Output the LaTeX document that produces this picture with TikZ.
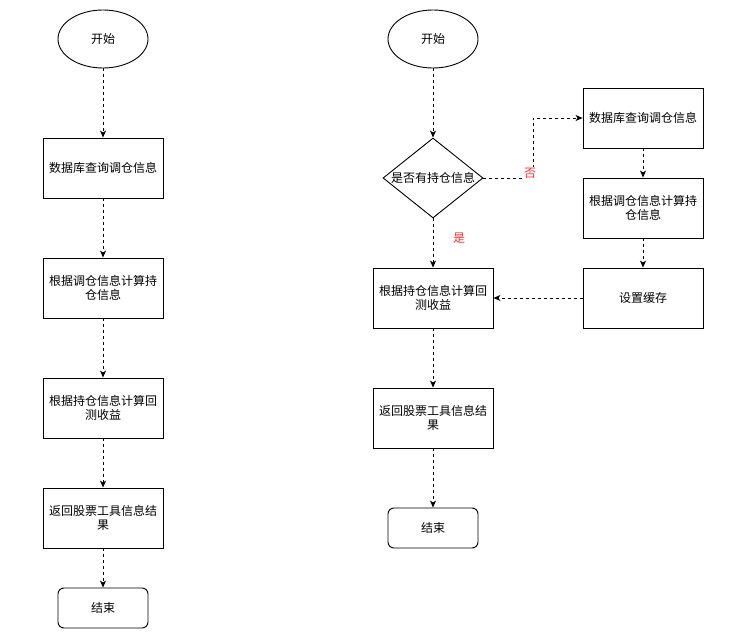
\documentclass[tikz,border=0pt]{standalone}
\usepackage{fontspec}
\newfontfamily\cjk{Noto Sans CJK SC}
\usetikzlibrary{arrows.meta,shapes.geometric}
\definecolor{LblClr}{HTML}{FF3333}

\begin{document}
\begin{tikzpicture}[x=1pt,y=-1pt,
  every node/.style={font=\cjk\fontsize{12}{14.5}\selectfont,align=center,inner sep=0pt},
  startbox/.style={draw,line width=0.9pt,ellipse,minimum width=90pt,minimum height=58pt},
  procbox/.style={draw,line width=0.9pt,rectangle,minimum width=120pt,minimum height=60pt},
  endbox/.style={draw,line width=0.9pt,rectangle,rounded corners=6pt,minimum width=90pt,minimum height=40pt},
  decbox/.style={draw,line width=0.9pt,diamond,aspect=1.25,minimum width=100pt,minimum height=80pt},
  flow/.style={line width=0.9pt,dash pattern=on 3pt off 3pt,-{Stealth[length=7pt,width=6pt,inset=2pt]}},
  lbl/.style={text=LblClr,fill=white,inner sep=1pt}]
\useasboundingbox (0,0) rectangle (729,637);

% left chart
\node[startbox] (s1) at (103,39) {开始};
\node[procbox] (q1) at (103,168) {数据库查询调仓信息};
\node[procbox] (h1) at (103,288) {根据调仓信息计算持\\仓信息};
\node[procbox] (r1) at (103,408) {根据持仓信息计算回\\测收益};
\node[procbox] (o1) at (103,518) {返回股票工具信息结\\果};
\node[endbox] (e1) at (103,608) {结束};

\draw[flow] (s1) -- (q1);
\draw[flow] (q1) -- (h1);
\draw[flow] (h1) -- (r1);
\draw[flow] (r1) -- (o1);
\draw[flow] (o1) -- (e1);

% right chart
\node[startbox] (s2) at (433,39) {开始};
\node[decbox] (d2) at (433,178) {是否有持仓信息};
\node[procbox] (r2) at (433,298) {根据持仓信息计算回\\测收益};
\node[procbox] (o2) at (433,418) {返回股票工具信息结\\果};
\node[endbox] (e2) at (433,528) {结束};
\node[procbox] (q2) at (643,118) {数据库查询调仓信息};
\node[procbox] (h2) at (643,208) {根据调仓信息计算持\\仓信息};
\node[procbox] (c2) at (643,298) {设置缓存};
\coordinate (turn) at (533,178);

\draw[flow] (s2) -- (d2);
\draw[flow] (d2) -- (r2);
\draw[flow] (d2.east) -- (turn) |- (q2.west);
\draw[flow] (q2) -- (h2);
\draw[flow] (h2) -- (c2);
\draw[flow] (c2) -- (r2);
\draw[flow] (r2) -- (o2);
\draw[flow] (o2) -- (e2);

\node[lbl] (no) at (530,173) {否};
\node[lbl] (yes) at (459,238) {是};

\end{tikzpicture}
\end{document}
